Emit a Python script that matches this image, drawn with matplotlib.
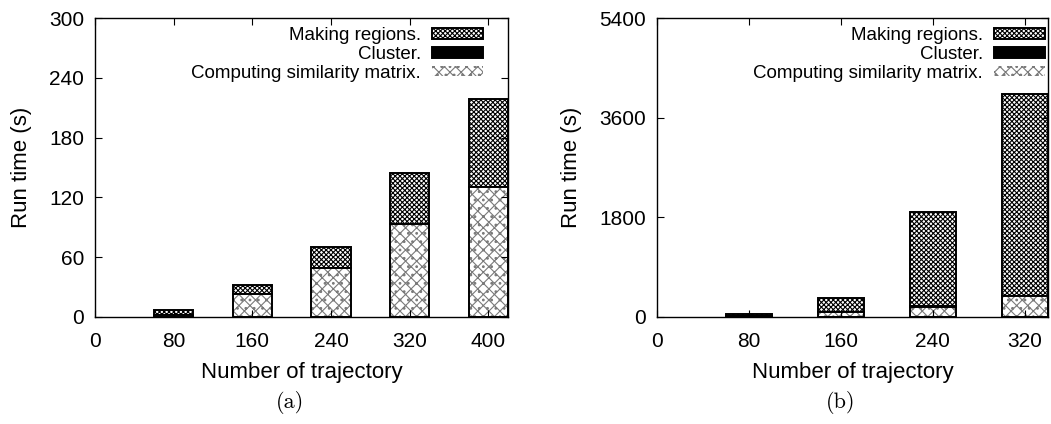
import matplotlib.pyplot as plt
import numpy as np

plt.rcParams['font.family'] = ['Liberation Sans', 'DejaVu Sans']
plt.rcParams['hatch.linewidth'] = 0.8

# panel (a)
traj_a = [80, 160, 240, 320, 400]
sim_a = [2, 23, 49, 93, 130]
clus_a = [0.2, 0.3, 0.4, 0.5, 0.6]
reg_a = [5, 9, 21, 51, 88]

# panel (b)
traj_b = [80, 160, 240, 320]
sim_b = [10, 85, 186, 380]
clus_b = [2, 3, 4, 5]
reg_b = [40, 250, 1700, 3640]

fig = plt.figure(figsize=(10.51, 4.24), dpi=100)
axa = fig.add_axes([0.0904, 0.2524, 0.393, 0.705])
axb = fig.add_axes([0.625, 0.2524, 0.372, 0.705])


def draw(ax, x, sim, clus, reg, xmax, ymax, yticks, leg_x):
    x = np.array(x)
    sim = np.array(sim)
    clus = np.array(clus)
    reg = np.array(reg)
    w = 40
    ax.bar(x, reg, w, bottom=sim + clus, color='white', edgecolor='black',
           hatch='xxxxxxx', linewidth=1.4, label='Making regions.')
    ax.bar(x, clus, w, bottom=sim, color='black', edgecolor='black',
           linewidth=1.4, label='Cluster.')
    # light stipple for the similarity part, outline drawn separately
    ax.bar(x, sim, w, color='white', edgecolor='#7a7a7a', hatch='xxx..',
           linewidth=0, label='Computing similarity matrix.')
    ax.bar(x, sim, w, fill=False, edgecolor='black', linewidth=1.4)
    ax.set_xlim(0, xmax)
    ax.set_ylim(0, ymax)
    ax.set_xticks(np.arange(0, xmax, 80))
    ax.set_yticks(yticks)
    ax.tick_params(direction='in', top=True, right=True, labelsize=15,
                   length=5, width=0.8)
    ax.tick_params(axis='x', pad=11)
    ax.tick_params(axis='y', pad=8)
    ax.set_xlabel('Number of trajectory', fontsize=16, labelpad=8)
    ax.set_ylabel('Run time (s)', fontsize=16, labelpad=12)
    for s in ax.spines.values():
        s.set_linewidth(1.0)
    h, l = ax.get_legend_handles_labels()
    ax.legend(h, l, loc='upper right', bbox_to_anchor=(leg_x, 0.995),
              frameon=False, markerfirst=False, borderaxespad=0,
              fontsize=13.5, handlelength=2.7, handleheight=0.5,
              labelspacing=0.1, handletextpad=0.6, alignment='right')


draw(axa, traj_a, sim_a, clus_a, reg_a, 420, 300, np.arange(0, 301, 60), 0.957)
draw(axb, traj_b, sim_b, clus_b, reg_b, 340, 5400, np.arange(0, 5401, 1800), 1.011)

fig.text(0.276, 0.05, '(a)', fontsize=16, family='cmr10', ha='center', va='center')
fig.text(0.80, 0.05, '(b)', fontsize=16, family='cmr10', ha='center', va='center')

fig.savefig('out.png', dpi=100)
